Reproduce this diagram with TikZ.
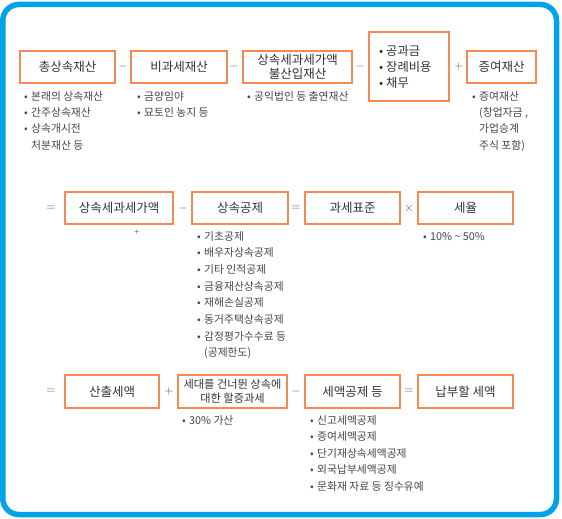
\documentclass[tikz,border=0pt]{standalone}
\usepackage{fontspec}
\setmainfont{Noto Sans CJK KR}
\definecolor{frameblue}{HTML}{00A3E6}
\definecolor{boxorange}{HTML}{F58A50}
\definecolor{txt}{HTML}{333333}
\definecolor{subtxt}{HTML}{444444}
\newcommand{\bl}{\makebox[7pt][l]{•}}
\newcommand{\ind}{\hspace*{7pt}}
\begin{document}
\begin{tikzpicture}[x=1pt,y=-1pt,
  box/.style={draw=boxorange,line width=1.3pt,fill=white,inner sep=0pt,text=txt,
    font=\fontsize{12.5}{14.5}\selectfont,align=center},
  op/.style={text=txt!85,inner sep=0pt,font=\fontsize{12}{14}\selectfont},
  inbox/.style={anchor=west,inner sep=0pt,text=txt,font=\fontsize{12.3}{14}\selectfont,
    text height=9pt,text depth=2.5pt},
  sub/.style={anchor=west,inner sep=0pt,text=subtxt,
    font=\fontsize{10.8}{12}\selectfont,text height=8pt,text depth=2pt}]
\useasboundingbox (0,0) rectangle (562,519);
\draw[frameblue,line width=5.5pt,rounded corners=16pt] (2.8,4.5) rectangle (556.5,514.5);

% ---------- row 1
\node[box,minimum width=95pt,minimum height=32pt] (b1) at (67.5,67) {총상속재산};
\node[op] (o11) at (123,67) {$-$};
\node[box,minimum width=96pt,minimum height=32pt] (b2) at (179,67) {비과세재산};
\node[op] (o12) at (234,67) {$-$};
\node[box,minimum width=109pt,minimum height=32pt] (b3) at (297.5,67) {상속세과세가액\\불산입재산};
\node[op] (o13) at (360,67) {$-$};
\node[box,minimum width=80pt,minimum height=69pt] (b4) at (409,66.5) {};
\node[inbox] (b4a) at (379,52) {\bl 공과금};
\node[inbox] (b4b) at (379,68) {\bl 장례비용};
\node[inbox] (b4c) at (379,84) {\bl 채무};
\node[op] (o14) at (459,67) {$+$};
\node[box,minimum width=69pt,minimum height=32pt] (b5) at (501.5,67) {증여재산};

\node[sub] (s11) at (24,97) {\bl 본래의 상속재산};
\node[sub] (s12) at (24,113) {\bl 간주상속재산};
\node[sub] (s13) at (24,129.5) {\bl 상속개시전};
\node[sub] (s14) at (24,146) {\ind 처분재산 등};

\node[sub] (s21) at (137,97) {\bl 금양임야};
\node[sub] (s22) at (137,113) {\bl 묘토인 농지 등};

\node[sub] (s31) at (247,97) {\bl 공익법인 등 출연재산};

\node[sub] (s51) at (472,97) {\bl 증여재산};
\node[sub] (s52) at (472,113) {\ind (창업자금 ,};
\node[sub] (s53) at (472,129.5) {\ind 가업승계};
\node[sub] (s54) at (472,146) {\ind 주식 포함)};

% ---------- row 2
\node[op] (o20) at (51,208) {$=$};
\node[box,minimum width=108pt,minimum height=32pt] (c1) at (119,208) {상속세과세가액};
\node[op] (o21) at (183,208) {$-$};
\node[box,minimum width=96pt,minimum height=32pt] (c2) at (240,208) {상속공제};
\node[op] (o22) at (296,208) {$=$};
\node[box,minimum width=95pt,minimum height=32pt] (c3) at (352.5,208) {과세표준};
\node[op] (o23) at (409,208) {$\times$};
\node[box,minimum width=95pt,minimum height=32pt] (c4) at (465.5,208) {세율};
\node[inner sep=0pt,font=\fontsize{6}{7}\selectfont] (mk) at (137,232) {$+$};

\node[sub] (t1) at (197,237) {\bl 기초공제};
\node[sub] (t2) at (197,253.5) {\bl 배우자상속공제};
\node[sub] (t3) at (197,270) {\bl 기타 인적공제};
\node[sub] (t4) at (197,287) {\bl 금융재산상속공제};
\node[sub] (t5) at (197,303.5) {\bl 재해손실공제};
\node[sub] (t6) at (197,320) {\bl 동거주택상속공제};
\node[sub] (t7) at (197,337) {\bl 감정평가수수료 등};
\node[sub] (t8) at (197,353.5) {\ind (공제한도)};

\node[sub] (u1) at (423,237) {\bl 10\% \textasciitilde{} 50\%};

% ---------- row 3
\node[op] (o30) at (51,391.5) {$=$};
\node[box,minimum width=94pt,minimum height=33pt] (d1) at (112,391.5) {산출세액};
\node[op] (o31) at (169,391.5) {$+$};
\node[box,minimum width=109pt,minimum height=33pt,font=\fontsize{11.2}{14}\selectfont] (d2) at (232.5,391.5) {세대를 건너뛴 상속에\\대한 할증과세};
\node[op] (o32) at (296,391.5) {$-$};
\node[box,minimum width=95pt,minimum height=33pt] (d3) at (352.5,391.5) {세액공제 등};
\node[op] (o33) at (409,391.5) {$=$};
\node[box,minimum width=95pt,minimum height=33pt] (d4) at (465.5,391.5) {납부할 세액};

\node[sub] (v1) at (182,421) {\bl 30\% 가산};

\node[sub] (w1) at (310,421) {\bl 신고세액공제};
\node[sub] (w2) at (310,437.5) {\bl 증여세액공제};
\node[sub] (w3) at (310,454) {\bl 단기재상속세액공제};
\node[sub] (w4) at (310,470.5) {\bl 외국납부세액공제};
\node[sub] (w5) at (310,487) {\bl 문화재 자료 등 징수유예};
\end{tikzpicture}
\end{document}
